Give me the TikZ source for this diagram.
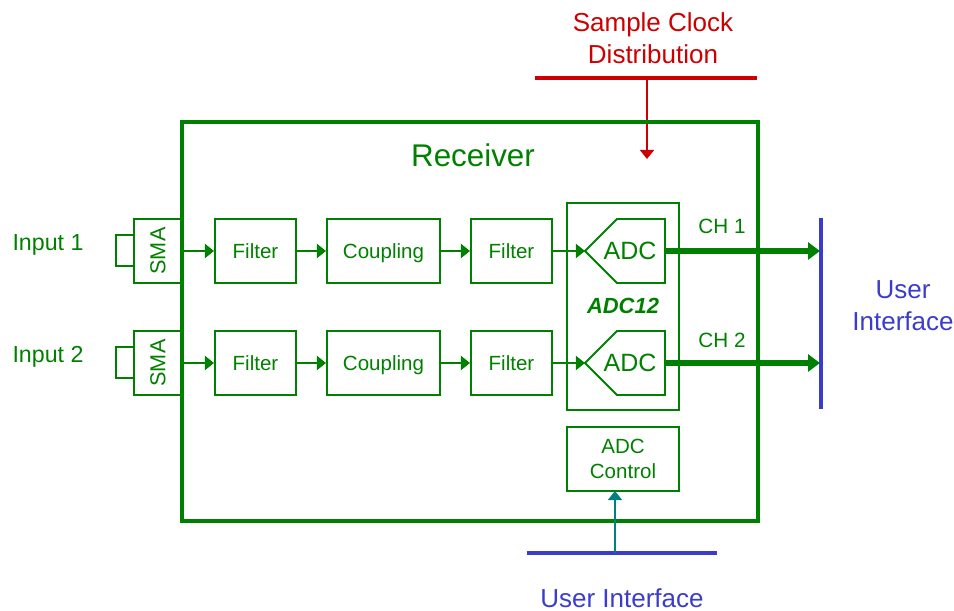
\documentclass[tikz,border=0pt]{standalone}
\usepackage{fontspec}
\setmainfont{Liberation Sans}
\usetikzlibrary{arrows.meta}

\colorlet{rxgreen}{green!50!black}
\definecolor{clkred}{RGB}{204,0,0}
\definecolor{uiblue}{RGB}{60,60,204}
\definecolor{ctlteal}{RGB}{0,128,128}

\tikzset{
  blk/.style={draw=rxgreen, line width=1.4pt, text=rxgreen, minimum height=1.6cm, inner sep=0pt, font=\fontsize{14.6}{17.8}\selectfont},
  sig/.style={->, rxgreen, line width=1.4pt},
  bus/.style={->, rxgreen, line width=3.6pt, >={Triangle[length=8.5pt,width=12pt]}},
  gtxt/.style={text=rxgreen, inner sep=0pt},
  big/.style={font=\fontsize{18.5}{22.7}\selectfont, align=center, inner sep=0pt}
}

\begin{document}
\begin{tikzpicture}[x=0.025cm, y=-0.025cm, >={Triangle[length=6.5pt,width=10pt]}]
\useasboundingbox (0,0) rectangle (954,611);

% Sample clock distribution
\node[big, text=clkred] (clktxt) at (653,38) {Sample Clock\\Distribution};
\coordinate (clkL) at (535,78);
\coordinate (clkR) at (757,78);
\coordinate (clkTap) at (647,78);
\coordinate (clkEnd) at (647,159);
\draw[clkred, line width=2.2pt] (clkL) -- (clkR);
\draw[->, clkred, line width=1.4pt] (clkTap) -- (clkEnd);

% Receiver
\node[draw=rxgreen, line width=2.8pt, minimum width=14.4cm, minimum height=9.975cm] (rx) at (470,321.5) {};
\node[gtxt, font=\fontsize{22.3}{26}\selectfont] (rxlabel) at (473,155) {Receiver};

% Input 1
\node[gtxt, font=\fontsize{16.5}{20}\selectfont] (inA) at (48,245) {Input 1};
\node[blk, minimum width=1.2cm] (smaA) at (158,251) {\rotatebox{90}{\fontsize{15.4}{18}\selectfont SMA}};
\draw[rxgreen, line width=1.4pt] (smaA.west) ++(0,-16) -- ++(-17,0) -- ++(0,31) -- ++(17,0);
\node[blk, minimum width=2.025cm] (filA) at (255.5,251) {Filter};
\node[blk, minimum width=2.825cm, text depth=0pt] (cplA) at (383.5,251) {Coupling};
\node[blk, minimum width=2.025cm] (filAA) at (511.5,251) {Filter};

% Input 2
\node[gtxt, font=\fontsize{16.5}{20}\selectfont] (inB) at (48,357) {Input 2};
\node[blk, minimum width=1.2cm] (smaB) at (158,363) {\rotatebox{90}{\fontsize{15.4}{18}\selectfont SMA}};
\draw[rxgreen, line width=1.4pt] (smaB.west) ++(0,-16) -- ++(-17,0) -- ++(0,31) -- ++(17,0);
\node[blk, minimum width=2.025cm] (filB) at (255.5,363) {Filter};
\node[blk, minimum width=2.825cm, text depth=0pt] (cplB) at (383.5,363) {Coupling};
\node[blk, minimum width=2.025cm] (filBB) at (511.5,363) {Filter};

% ADC12
\node[blk, minimum width=2.8cm, minimum height=5.175cm] (adc12) at (623,306.5) {};
\node[gtxt, font=\fontsize{15.6}{18}\selectfont\bfseries\itshape] (adc12label) at (623,306) {ADC12};
\coordinate (adcAin) at (585,251);
\coordinate (adcAout) at (665,251);
\coordinate (adcBin) at (585,363);
\coordinate (adcBout) at (665,363);
\draw[rxgreen, line width=1.4pt] (adcAin) -- (617,219) -- (665,219) -- (adcAout) -- (665,283) -- (617,283) -- cycle;
\draw[rxgreen, line width=1.4pt] (adcBin) -- (617,331) -- (665,331) -- (adcBout) -- (665,395) -- (617,395) -- cycle;
\node[gtxt, font=\fontsize{17.8}{20}\selectfont] (adcA) at (630,251) {ADC};
\node[gtxt, font=\fontsize{17.8}{20}\selectfont] (adcB) at (630,363) {ADC};

% ADC control
\node[blk, minimum width=2.8cm, align=center] (adcCtl) at (623,459) {ADC\\Control};

% Signal chain
\draw[sig] (smaA) -- (filA);
\draw[sig] (filA) -- (cplA);
\draw[sig] (cplA) -- (filAA);
\draw[sig] (filAA) -- (adcAin);
\draw[sig] (smaB) -- (filB);
\draw[sig] (filB) -- (cplB);
\draw[sig] (cplB) -- (filBB);
\draw[sig] (filBB) -- (adcBin);

% User interface (right)
\coordinate (uiTop) at (821,218);
\coordinate (uiBot) at (821,409);
\coordinate (chAend) at (820,251);
\coordinate (chBend) at (820,363);
\draw[uiblue, line width=2.2pt] (uiTop) -- (uiBot);
\draw[bus] (adcAout) -- (chAend);
\draw[bus] (adcBout) -- (chBend);
\node[gtxt, font=\fontsize{14.7}{17}\selectfont] (chA) at (722,226) {CH 1};
\node[gtxt, font=\fontsize{14.7}{17}\selectfont] (chB) at (722,340) {CH 2};
\node[big, text=uiblue] (uiR) at (903,306) {User\\Interface};

% User interface (bottom)
\coordinate (uiBL) at (527,553);
\coordinate (uiBR) at (717,553);
\coordinate (uiTap) at (615,553);
\coordinate (ctlIn) at (615,491);
\draw[uiblue, line width=2.2pt] (uiBL) -- (uiBR);
\draw[->, ctlteal, line width=1.4pt] (uiTap) -- (ctlIn);
\node[big, text=uiblue] (uiB) at (622,598) {User Interface};
\end{tikzpicture}
\end{document}
